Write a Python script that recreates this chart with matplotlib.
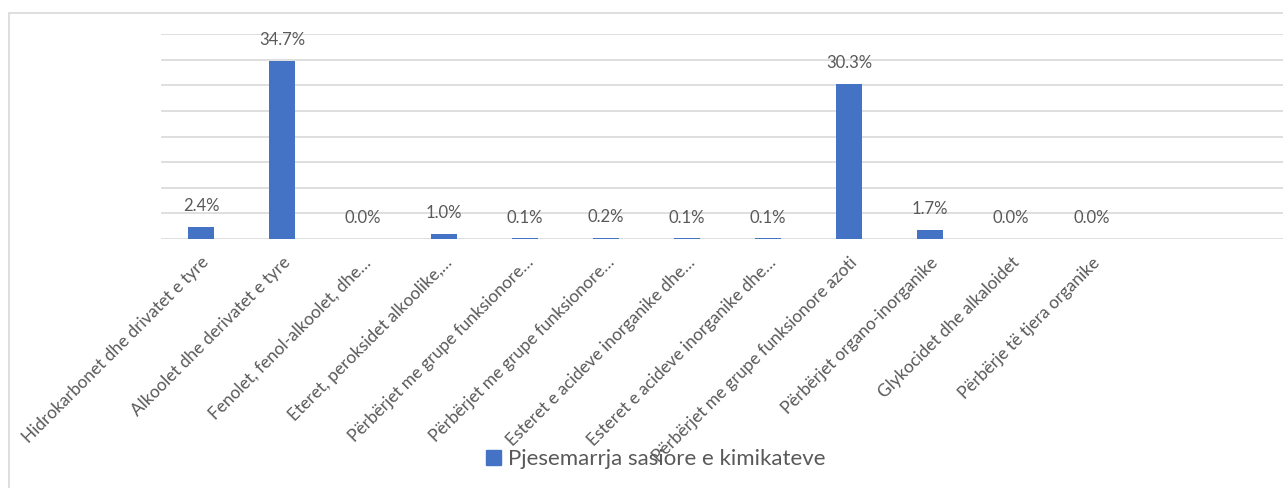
import matplotlib.pyplot as plt
from matplotlib.patches import Rectangle, Patch

categories = [
    "Hidrokarbonet dhe drivatet e tyre",
    "Alkoolet dhe derivatet e tyre",
    "Fenolet, fenol-alkoolet, dhe…",
    "Eteret, peroksidet alkoolike,…",
    "Përbërjet me grupe funksionore…",
    "Përbërjet me grupe funksionore…",
    "Esteret e acideve inorganike dhe…",
    "Esteret e acideve inorganike dhe…",
    "Përbërjet me grupe funksionore azoti",
    "Përbërjet organo-inorganike",
    "Glykocidet dhe alkaloidet",
    "Përbërje të tjera organike",
]
shares = [2.4, 34.7, 0.0, 1.0, 0.1, 0.2, 0.1, 0.1, 30.3, 1.7, 0.0, 0.0]
series_name = "Pjesemarrja sasiore e kimikateve"

BAR_COLOR = "#4472C4"
TEXT_COLOR = "#595959"
GRID_COLOR = "#D9D9D9"

plt.rcParams["font.family"] = ["Lato", "DejaVu Sans"]

W, H = 1283, 488
fig = plt.figure(figsize=(W / 100, H / 100), dpi=100)

# plot area in pixel coordinates
left, right, bottom, top = 160.5, W, 239, 34
ax = fig.add_axes([left / W, 1 - bottom / H, (right - left) / W, (bottom - top) / H])

x = list(range(len(categories)))
ax.bar(x, shares, width=0.31, color=BAR_COLOR, zorder=3)

for xi, v in zip(x, shares):
    ax.annotate(f"{v:.1f}%", (xi, v), xytext=(0, 11.5), textcoords="offset points",
                ha="center", va="baseline", fontsize=12, color=TEXT_COLOR)

ax.set_ylim(0, 40)
ax.set_yticks(range(0, 41, 5))
ax.set_xlim(-0.5, -0.5 + (right - left) / 81)
ax.yaxis.grid(True, color=GRID_COLOR, linewidth=1.2, zorder=0)
ax.tick_params(axis="y", left=False, labelleft=False)
ax.tick_params(axis="x", length=0, pad=11)
ax.set_xticks(x)
ax.set_xticklabels(categories, rotation=45, ha="right", va="top",
                   rotation_mode="anchor", fontsize=12.4, color=TEXT_COLOR)
for side in ["top", "right", "left", "bottom"]:
    ax.spines[side].set_visible(False)

# chart frame
fig.add_artist(Rectangle((9 / W, -0.1), 2, 1.1 - 13 / H, transform=fig.transFigure,
                         fill=False, edgecolor=GRID_COLOR, linewidth=1.2))

fig.legend(handles=[Patch(color=BAR_COLOR, label=series_name)],
           loc="center", bbox_to_anchor=(656 / W, 1 - 459 / H), frameon=False,
           fontsize=16, labelcolor=TEXT_COLOR, handlelength=0.65, handleheight=0.65,
           handletextpad=0.35)

fig.savefig("out.png", dpi=100)
